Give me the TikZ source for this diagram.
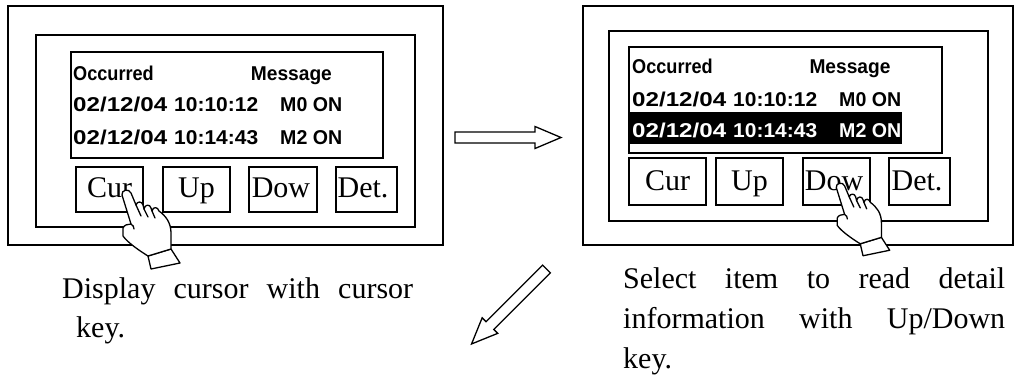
\documentclass[tikz,border=0pt]{standalone}
\usepackage{fontspec}
\usepackage{graphicx}
\setmainfont{Liberation Serif}
\newfontfamily\lcdfont{Liberation Sans}
\newcommand\fitw[2]{\resizebox{#1}{\height}{#2}}
\tikzset{
  box/.style={draw, line width=1.5pt, inner sep=0pt, outer sep=0pt},
  keybox/.style={box, line width=1.4pt},
  keylabel/.style={anchor=base, inner sep=0pt, font=\fontsize{30}{36}\selectfont},
  lcd/.style={anchor=base west, inner sep=0pt, font=\lcdfont\bfseries\fontsize{20}{21}\selectfont},
  caption/.style={anchor=base west, inner sep=0pt, font=\fontsize{30}{36}\selectfont},
  hollowarrow/.pic={
    \draw[line width=1.3pt, line join=miter, fill=white]
      (0,-5.5) -- (80,-5.5) -- (80,-11) -- (106,0) -- (80,11) -- (80,5.5) -- (0,5.5) -- cycle;
  },
  hand/.pic={
    % cuff
    \draw[line width=1.3pt, fill=white, line join=round]
      (22,65) -- (45,58) -- (54,72) -- (25,78) -- cycle;
    % palm, pointing finger and curled fingers
    \draw[line width=1.3pt, fill=white, line join=round]
      (-4,4) .. controls (-5,-1) and (3,-3) .. (5,2)
      -- (10,14)
      .. controls (11,10) and (16,10) .. (17,14)
      -- (18,18)
      .. controls (19,13) and (24,13) .. (25,17)
      -- (26,20)
      .. controls (27,15) and (32,16) .. (33,20)
      .. controls (40,25) and (45,32) .. (45,42)
      -- (45,58)
      -- (22,65)
      .. controls (14,60) and (2,52) .. (-3,45)
      -- (-3,37)
      .. controls (-2,34) and (2,33) .. (5,33)
      -- cycle;
    % finger creases
    \draw[line width=1.3pt, line cap=round]
      (10,14) -- (15,25)
      (18,18) -- (22,26)
      (26,20) -- (29,27)
      (5,33) .. controls (7,34) and (8,36) .. (8,38);
  }
}
\begin{document}
\begin{tikzpicture}[x=1pt, y=-1pt]
\useasboundingbox (0,0) rectangle (1016,378);

% ---------- left panel ----------
\node[box, minimum width=435, minimum height=239] (outerL) at (225.5,125.5) {};
\node[box, minimum width=379, minimum height=192] (innerL) at (225.5,131) {};
\node[box, minimum width=312, minimum height=106] (screenL) at (227,105) {};

\node[lcd] (occL) at (73,80) {\fitw{80.6pt}{Occurred}};
\node[lcd] (msgL) at (250.7,80) {\fitw{81pt}{Message}};
\node[lcd] (d1L) at (73,111.5) {\fitw{94pt}{02/12/04}};
\node[lcd] (t1L) at (174,111.5) {\fitw{84pt}{10:10:12}};
\node[lcd] (m1L) at (280,111.5) {\fitw{62pt}{M0 ON}};
\node[lcd] (d2L) at (73,144) {\fitw{94pt}{02/12/04}};
\node[lcd] (t2L) at (174,144) {\fitw{84pt}{10:14:43}};
\node[lcd] (m2L) at (280,144) {\fitw{62pt}{M2 ON}};

\node[keybox, minimum width=67, minimum height=45] (curL) at (109.5,189.5) {};
\node[keybox, minimum width=67, minimum height=45] (upL) at (196.5,189.5) {};
\node[keybox, minimum width=68, minimum height=45] (dowL) at (283,189.5) {};
\node[keybox, minimum width=61, minimum height=45] (detL) at (366.5,189.5) {};
\node[keylabel] (curLt) at (109.5,197) {Cur};
\node[keylabel] (upLt) at (196.5,197) {Up};
\node[keylabel] (dowLt) at (281,197) {Dow};
\node[keylabel] (detLt) at (363,197) {Det.};

\pic (handL) at (126,191) {hand};

% ---------- right panel ----------
\node[box, minimum width=430, minimum height=239] (outerR) at (798,125.5) {};
\node[box, minimum width=379, minimum height=190] (innerR) at (798.5,126) {};
\node[box, minimum width=313, minimum height=106] (screenR) at (785.5,100) {};
\node[fill=black, inner sep=0pt, minimum width=272, minimum height=32] (selR) at (766,128) {};

\node[lcd] (occR) at (632,73.5) {\fitw{80.6pt}{Occurred}};
\node[lcd] (msgR) at (809.3,73.5) {\fitw{81pt}{Message}};
\node[lcd] (d1R) at (632,106) {\fitw{94pt}{02/12/04}};
\node[lcd] (t1R) at (733,106) {\fitw{84pt}{10:10:12}};
\node[lcd] (m1R) at (839,106) {\fitw{62pt}{M0 ON}};
\node[lcd, text=white] (d2R) at (632,137.5) {\fitw{94pt}{02/12/04}};
\node[lcd, text=white] (t2R) at (733,137.5) {\fitw{84pt}{10:14:43}};
\node[lcd, text=white] (m2R) at (839,137.5) {\fitw{62pt}{M2 ON}};

\node[keybox, minimum width=77, minimum height=47] (curR) at (667.5,181.5) {};
\node[keybox, minimum width=67, minimum height=47] (upR) at (749.5,181.5) {};
\node[keybox, minimum width=67, minimum height=47] (dowR) at (836.5,181.5) {};
\node[keybox, minimum width=61, minimum height=47] (detR) at (919.5,181.5) {};
\node[keylabel] (curRt) at (667.5,190) {Cur};
\node[keylabel] (upRt) at (749.5,190) {Up};
\node[keylabel] (dowRt) at (834,190) {Dow};
\node[keylabel] (detRt) at (917,190) {Det.};

\pic[scale=0.92] (handR) at (840,184) {hand};

% ---------- block arrows ----------
\pic (arrowRight) at (455,137.5) {hollowarrow};
\pic[rotate=225] (arrowDown) at (546.5,269) {hollowarrow};

% ---------- captions ----------
\node[caption] (capL1) at (62,298) {\makebox[351pt][s]{Display cursor with cursor}};
\node[caption] (capL2) at (76,337) {key.};
\node[caption] (capR1) at (623,288) {\makebox[382pt][s]{Select item to read detail}};
\node[caption] (capR2) at (623,328) {\makebox[382pt][s]{information with Up/Down}};
\node[caption] (capR3) at (623,368) {key.};
\end{tikzpicture}
\end{document}
